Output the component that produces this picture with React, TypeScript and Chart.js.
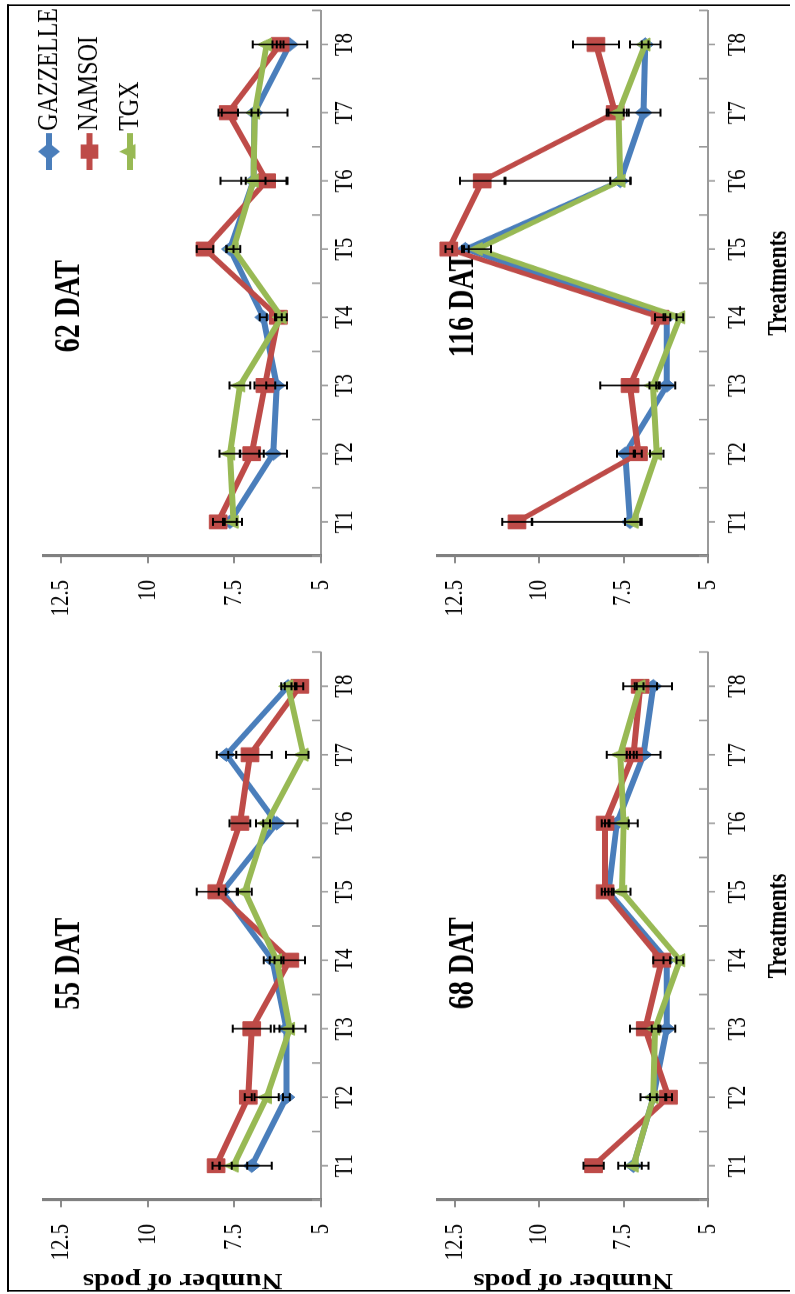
import React, { useEffect, useRef } from 'react';
import { Chart, registerables } from 'chart.js';

Chart.register(...registerables);

// ---------------- data ----------------
const treatments = ['T1', 'T2', 'T3', 'T4', 'T5', 'T6', 'T7', 'T8'];
const valueTicks = [5, 7.5, 10, 12.5];
const seriesNames = ['GAZZELLE', 'NAMSOI', 'TGX'];

// errors are [minus, plus]
const gazzelle55 = [7.0, 6.0, 6.0, 6.4, 7.85, 6.28, 7.73, 5.95];
const gazzelle55Err = [[0.58, 0.58], [0.1, 0.1], [0.2, 0.2], [0.25, 0.25], [0.1, 0.1], [0.6, 0.6], [0.28, 0.28], [0.1, 0.1]];
const namsoi55 = [8.03, 7.1, 7.0, 5.9, 8.01, 7.34, 7.05, 5.61];
const namsoi55Err = [[0.1, 0.1], [0.1, 0.1], [0.55, 0.55], [0.44, 0.44], [0.58, 0.58], [0.3, 0.3], [0.63, 0.63], [0.1, 0.1]];
const tgx55 = [7.53, 6.57, 5.9, 6.28, 7.2, 6.57, 5.51, 5.95];
const tgx55Err = [[0.4, 0.4], [0.35, 0.35], [0.45, 0.45], [0.2, 0.2], [0.2, 0.2], [0.1, 0.1], [0.15, 0.5], [0.2, 0.2]];

const gazzelle62 = [7.63, 6.38, 6.28, 6.67, 7.63, 6.95, 6.92, 5.9];
const gazzelle62Err = [[0.2, 0.2], [0.4, 0.4], [0.3, 0.3], [0.1, 0.1], [0.1, 0.1], [0.95, 0.95], [0.95, 0.95], [0.5, 0.5]];
const namsoi62 = [7.97, 7.0, 6.62, 6.23, 8.35, 6.57, 7.68, 6.18];
const namsoi62Err = [[0.15, 0.15], [0.35, 0.35], [0.3, 0.3], [0.1, 0.1], [0.24, 0.24], [0.6, 0.6], [0.28, 0.28], [0.1, 0.1]];
const tgx62 = [7.53, 7.63, 7.34, 6.14, 7.53, 6.95, 6.91, 6.57];
const tgx62Err = [[0.25, 0.25], [0.3, 0.3], [0.3, 0.3], [0.15, 0.15], [0.2, 0.2], [0.35, 0.35], [0.1, 0.1], [0.4, 0.4]];

const gazzelle68 = [7.21, 6.62, 6.22, 6.22, 7.95, 7.7, 6.91, 6.62];
const gazzelle68Err = [[0.45, 0.45], [0.38, 0.38], [0.25, 0.25], [0.1, 0.1], [0.1, 0.1], [0.35, 0.35], [0.5, 0.5], [0.55, 0.55]];
const namsoi68 = [8.39, 6.17, 6.86, 6.37, 8.05, 8.05, 7.21, 7.01];
const namsoi68Err = [[0.3, 0.3], [0.1, 0.1], [0.45, 0.45], [0.25, 0.25], [0.1, 0.1], [0.1, 0.1], [0.1, 0.1], [0.1, 0.1]];
const tgx68 = [7.21, 6.62, 6.57, 5.83, 7.55, 7.5, 7.6, 7.01];
const tgx68Err = [[0.25, 0.25], [0.1, 0.1], [0.1, 0.1], [0.1, 0.1], [0.25, 0.25], [0.42, 0.42], [0.4, 0.4], [0.5, 0.5]];

const gazzelle116 = [7.31, 7.45, 6.22, 6.22, 12.19, 7.6, 6.91, 6.86];
const gazzelle116Err = [[0.3, 2.9], [0.25, 0.25], [0.25, 0.25], [0.1, 0.1], [0.1, 0.1], [0.3, 3.4], [0.5, 0.5], [0.45, 0.45]];
const namsoi116 = [10.66, 7.06, 7.31, 6.42, 12.68, 11.69, 7.75, 8.32];
const namsoi116Err = [[0.44, 0.44], [0.1, 0.1], [0.88, 0.88], [0.15, 0.15], [0.1, 0.1], [0.66, 0.66], [0.25, 0.25], [0.68, 0.68]];
const tgx116 = [7.21, 6.52, 6.63, 5.83, 11.83, 7.6, 7.65, 6.86];
const tgx116Err = [[0.25, 0.25], [0.2, 0.2], [0.1, 0.1], [0.1, 0.1], [0.4, 0.4], [0.3, 0.3], [0.3, 0.3], [0.1, 0.1]];

// ---------------- styles ----------------
const SERIF = "'Liberation Serif', 'Times New Roman', Times, serif";
const COLORS = ['#4A7EBB', '#BE4B48', '#98B954'];
const POINT_STYLES = ['rectRot', 'rect', 'triangle'];
const POINT_RADII = [8.5, 12.5, 9.5];
const LEGEND_RADII = [11, 12.5, 11];
const AXIS_GRAY = '#8c8c8c';
const SQUEEZE = 0.8; // the original picture is compressed along its horizontal axis

function drawMarker(ctx: CanvasRenderingContext2D, style: string, x: number, y: number, r: number, color: string) {
  ctx.save();
  ctx.fillStyle = color;
  ctx.beginPath();
  if (style === 'rect') {
    const s = r * Math.SQRT1_2;
    ctx.rect(x - s, y - s, 2 * s, 2 * s);
  } else if (style === 'rectRot') {
    ctx.moveTo(x, y - r);
    ctx.lineTo(x + r, y);
    ctx.lineTo(x, y + r);
    ctx.lineTo(x - r, y);
    ctx.closePath();
  } else {
    for (let k = 0; k < 3; k++) {
      const a = (k * 2 * Math.PI) / 3;
      const px = x + Math.sin(a) * r;
      const py = y - Math.cos(a) * r;
      if (k === 0) ctx.moveTo(px, py);
      else ctx.lineTo(px, py);
    }
    ctx.closePath();
  }
  ctx.fill();
  ctx.restore();
}

const catTicksPlugin = {
  id: 'catTicks',
  beforeDatasetsDraw(chart: any) {
    const xs = chart.scales.x;
    const { ctx, chartArea } = chart;
    const n = chart.data.labels.length;
    ctx.save();
    ctx.strokeStyle = '#9a9a9a';
    ctx.lineWidth = 2;
    ctx.beginPath();
    for (let i = 0; i <= n; i++) {
      const px = xs.getPixelForValue(i - 0.5);
      ctx.moveTo(px, chartArea.bottom);
      ctx.lineTo(px, chartArea.bottom - 9);
    }
    for (let i = 0; i < n; i++) {
      const px = xs.getPixelForValue(i);
      ctx.moveTo(px, chartArea.bottom);
      ctx.lineTo(px, chartArea.bottom + 7);
    }
    ctx.stroke();
    ctx.restore();
  },
};

const panelTitlePlugin = {
  id: 'panelTitle',
  beforeDatasetsDraw(chart: any, _a: any, opts: any) {
    if (!opts || !opts.text) return;
    const { ctx, chartArea } = chart;
    ctx.save();
    ctx.font = `bold ${opts.size}px ${SERIF}`;
    ctx.fillStyle = '#000';
    ctx.textAlign = 'center';
    ctx.textBaseline = 'alphabetic';
    ctx.fillText(opts.text, chartArea.left + opts.xFrac * (chartArea.right - chartArea.left), chartArea.top + opts.baseline);
    ctx.restore();
  },
};

const errorBarsPlugin = {
  id: 'errorBars',
  afterDatasetsDraw(chart: any, _a: any, opts: any) {
    const { ctx } = chart;
    const ys = chart.scales.y;
    ctx.save();
    ctx.strokeStyle = opts.color;
    chart.data.datasets.forEach((ds: any, i: number) => {
      const errs = ds.errorBars;
      if (!errs) return;
      const meta = chart.getDatasetMeta(i);
      meta.data.forEach((pt: any, j: number) => {
        const v = ds.data[j];
        const [m, p] = errs[j];
        const yTop = ys.getPixelForValue(v + p);
        const yBot = ys.getPixelForValue(v - m);
        ctx.lineWidth = opts.lineWidth;
        ctx.beginPath();
        ctx.moveTo(pt.x, yTop);
        ctx.lineTo(pt.x, yBot);
        ctx.stroke();
        ctx.lineWidth = opts.capWidth;
        ctx.beginPath();
        ctx.moveTo(pt.x - opts.capHalf, yTop);
        ctx.lineTo(pt.x + opts.capHalf, yTop);
        ctx.moveTo(pt.x - opts.capHalf, yBot);
        ctx.lineTo(pt.x + opts.capHalf, yBot);
        ctx.stroke();
      });
    });
    ctx.restore();
  },
};

const insideLegendPlugin = {
  id: 'insideLegend',
  afterDatasetsDraw(chart: any, _a: any, opts: any) {
    if (!opts || !opts.display) return;
    const { ctx } = chart;
    ctx.save();
    chart.data.datasets.forEach((ds: any, i: number) => {
      const y = opts.y + i * opts.rowGap;
      ctx.strokeStyle = ds.borderColor;
      ctx.lineWidth = ds.borderWidth;
      ctx.lineCap = 'butt';
      ctx.beginPath();
      ctx.moveTo(opts.x, y);
      ctx.lineTo(opts.x + opts.lineLength, y);
      ctx.stroke();
      drawMarker(ctx, ds.pointStyle, opts.x + opts.lineLength / 2, y, LEGEND_RADII[i], ds.borderColor);
      ctx.font = `${opts.fontSize}px ${SERIF}`;
      ctx.textBaseline = 'middle';
      ctx.textAlign = 'left';
      ctx.fillStyle = '#000';
      ctx.fillText(ds.label, opts.x + opts.lineLength + opts.textGap, y);
    });
    ctx.restore();
  },
};

type Panel = {
  title: string;
  values: number[][];
  errors: number[][][];
  left: number;
  top: number;
  w: number;
  h: number;
  padTop: number;
  padRight: number;
  yWidth: number;
  xHeight: number;
  xTickPad: number;
  yTitle: boolean;
  xTitle: boolean;
  legend: boolean;
  titleFrac: number;
};

const panels: Panel[] = [
  {
    title: '55 DAT', values: [gazzelle55, namsoi55, tgx55], errors: [gazzelle55Err, namsoi55Err, tgx55Err],
    left: 0, top: 0, w: 830, h: 390, padTop: 44, padRight: 27.5, yWidth: 117.5, xHeight: 69, xTickPad: 9,
    yTitle: true, xTitle: false, legend: false, titleFrac: 0.431,
  },
  {
    title: '62 DAT', values: [gazzelle62, namsoi62, tgx62], errors: [gazzelle62Err, namsoi62Err, tgx62Err],
    left: 830, top: 0, w: 788, h: 390, padTop: 44, padRight: 13, yWidth: 92.5, xHeight: 69, xTickPad: 9,
    yTitle: false, xTitle: false, legend: true, titleFrac: 0.458,
  },
  {
    title: '68 DAT', values: [gazzelle68, namsoi68, tgx68], errors: [gazzelle68Err, namsoi68Err, tgx68Err],
    left: 0, top: 390, w: 830, h: 405, padTop: 48, padRight: 27.5, yWidth: 117.5, xHeight: 87, xTickPad: 15,
    yTitle: true, xTitle: true, legend: false, titleFrac: 0.432,
  },
  {
    title: '116 DAT', values: [gazzelle116, namsoi116, tgx116], errors: [gazzelle116Err, namsoi116Err, tgx116Err],
    left: 830, top: 390, w: 788, h: 405, padTop: 48, padRight: 13, yWidth: 92.5, xHeight: 87, xTickPad: 15,
    yTitle: false, xTitle: true, legend: false, titleFrac: 0.46,
  },
];

function buildConfig(p: Panel): any {
  const tickFont = { family: SERIF, size: 26 };
  return {
    type: 'line',
    data: {
      labels: treatments,
      datasets: p.values.map((vals, i) => ({
        label: seriesNames[i],
        data: vals,
        errorBars: p.errors[i],
        borderColor: COLORS[i],
        backgroundColor: COLORS[i],
        pointBackgroundColor: COLORS[i],
        pointBorderColor: COLORS[i],
        borderWidth: 6,
        borderJoinStyle: 'round',
        pointStyle: POINT_STYLES[i],
        pointRadius: POINT_RADII[i],
        pointBorderWidth: 1,
        tension: 0,
        fill: false,
        order: 3 - i,
      })),
    },
    options: {
      responsive: false,
      animation: false,
      devicePixelRatio: 1,
      events: [],
      layout: { padding: { top: p.padTop, right: p.padRight, left: 0, bottom: 0 } },
      plugins: {
        legend: { display: false },
        tooltip: { enabled: false },
        title: { display: false },
        panelTitle: { text: p.title, size: 35, xFrac: p.titleFrac, baseline: 35 },
        errorBars: { color: '#000', lineWidth: 2, capWidth: 2, capHalf: 5 },
        insideLegend: {
          display: p.legend, x: 575, y: 49, rowGap: 40.5, lineLength: 46, textGap: 3,
          fontSize: 30,
        },
      },
      scales: {
        x: {
          type: 'category',
          offset: true,
          grid: { display: false, drawTicks: false },
          border: { display: true, color: '#9a9a9a', width: 2 },
          ticks: {
            color: '#000', font: tickFont, padding: p.xTickPad,
            autoSkip: false, maxRotation: 0, minRotation: 0,
          },
          title: {
            display: p.xTitle, text: 'Treatments', color: '#000',
            font: { family: SERIF, size: 27, weight: 'bold', lineHeight: 1 },
            padding: { top: 0, bottom: 2.5 },
          },
          afterFit: (s: any) => { s.height = p.xHeight; },
        },
        y: {
          type: 'linear',
          min: 5,
          max: 13,
          afterBuildTicks: (s: any) => { s.ticks = valueTicks.map((v) => ({ value: v })); },
          grid: { display: true, drawOnChartArea: false, drawTicks: true, tickLength: 9, color: AXIS_GRAY, lineWidth: 2 },
          border: { display: true, color: '#808080', width: 4 },
          ticks: { color: '#000', font: tickFont, padding: 21, autoSkip: false, callback: (v: any) => String(v) },
          title: {
            display: p.yTitle, text: 'Number of pods', color: '#000',
            font: { family: SERIF, size: 29, weight: 'bold', lineHeight: 1 },
            padding: { top: 3, bottom: 0 },
          },
          afterFit: (s: any) => { s.width = p.yWidth; },
        },
      },
    },
    plugins: [catTicksPlugin, panelTitlePlugin, errorBarsPlugin, insideLegendPlugin],
  };
}

function PanelChart({ p }: { p: Panel }) {
  const ref = useRef<HTMLCanvasElement | null>(null);
  useEffect(() => {
    if (!ref.current) return;
    const chart = new Chart(ref.current, buildConfig(p));
    return () => chart.destroy();
  }, [p]);
  return (
    <canvas
      ref={ref}
      width={p.w}
      height={p.h}
      style={{ position: 'absolute', left: p.left, top: p.top, width: p.w, height: p.h }}
    />
  );
}

export default function App() {
  const naturalWidth = 1294 / SQUEEZE;
  return (
    <div
      style={{
        position: 'fixed',
        left: 0,
        top: 0,
        width: naturalWidth,
        height: 795,
        transformOrigin: '0 0',
        transform: `translate(0px, 1294px) rotate(-90deg) scaleX(${SQUEEZE})`,
        background: '#fff',
      }}
    >
      <div
        style={{
          position: 'absolute',
          left: 2.5,
          top: 7,
          width: 1609,
          height: 783,
          boxSizing: 'border-box',
          borderTop: '2px solid #000',
          borderLeft: '2.5px solid #000',
          borderRight: '2.5px solid #000',
        }}
      />
      {panels.map((p) => (
        <PanelChart key={p.title} p={p} />
      ))}
    </div>
  );
}
